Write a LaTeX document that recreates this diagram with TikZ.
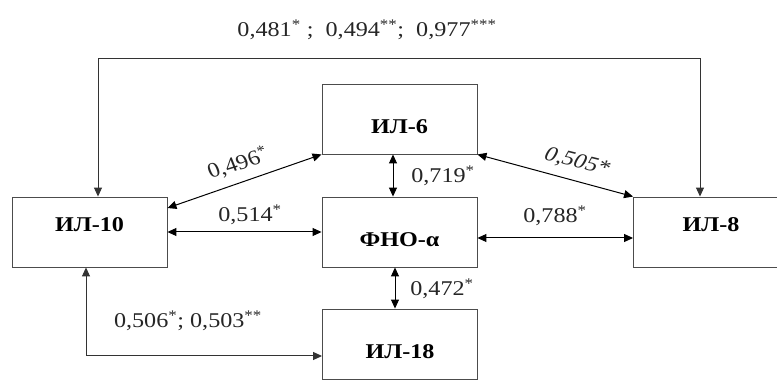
\documentclass[tikz,border=0pt]{standalone}
\usepackage{fontspec}
\setmainfont{Liberation Serif}
\usetikzlibrary{arrows.meta}
\begin{document}
\begin{tikzpicture}[x=1pt,y=-1pt,
  box/.style={draw=black!70,line width=0.9pt,minimum width=155pt,minimum height=70pt,inner sep=0pt},
  blbl/.style={font=\fontsize{21}{24}\selectfont\bfseries,inner sep=0pt,xscale=1.15,transform shape},
  num/.style={font=\fontsize{21}{24}\selectfont,inner sep=0pt,text=black!85,xscale=1.15,transform shape},
  arr/.style={line width=1pt,{Triangle[length=9pt,width=8pt]}-{Triangle[length=9pt,width=8pt]}},
  gline/.style={line width=1pt,draw=black!80,{Triangle[length=9pt,width=8pt]}-{Triangle[length=9pt,width=8pt]}}]
\useasboundingbox (0,0) rectangle (777,387);
% boxes
\node[box] (il10) at (89.5,232) {};
\node[box] (il6) at (399.5,119) {};
\node[box] (fno) at (399.5,232) {};
\node[box] (il8) at (711,232) {};
\node[box] (il18) at (400,344) {};
% box texts
\node[blbl] (t10) at ([yshift=7pt]il10.center) {ИЛ-10};
\node[blbl] (t6) at ([yshift=-8pt]il6.center) {ИЛ-6};
\node[blbl] (tfno) at ([yshift=-8pt]fno.center) {ФНО-α};
\node[blbl] (t8) at ([yshift=7pt]il8.center) {ИЛ-8};
\node[blbl] (t18) at ([yshift=-8pt]il18.center) {ИЛ-18};
% connectors
\coordinate (top10) at (98,0 |- il10.north);
\coordinate (top8) at (700,0 |- il8.north);
\draw[gline] (top10) -- (98,59) -- (700,59) -- (top8);
\node[num] (ltop) at (367,30) {0,481\textsuperscript{*} ;\ \ 0,494\textsuperscript{**};\ \ 0,977\textsuperscript{***}};

\draw[arr] ([yshift=24pt]il10.east) -- (il6.south west);
\node[num,rotate=19] (l496) at (238,163) {0,496\textsuperscript{*}};

\draw[arr] (il6.south east) -- (il8.north west);
\node[num,rotate=-16] (l505) at (577,162) {\textit{0,505*}};

\draw[arr] (il10.east) -- (fno.west);
\node[num] (l514) at (250,215) {0,514\textsuperscript{*}};

\draw[arr] ([yshift=-6pt]fno.east) -- ([yshift=-6pt]il8.west);
\node[num] (l788) at (555,216) {0,788\textsuperscript{*}};

\draw[arr] (393,0 |- il6.south) -- (393,0 |- fno.north);
\node[num] (l719) at (443,176) {0,719\textsuperscript{*}};

\draw[arr] (395,0 |- fno.south) -- (395,0 |- il18.north);
\node[num] (l472) at (442,289) {0,472\textsuperscript{*}};

\coordinate (bot10) at (86,0 |- il10.south);
\draw[gline] (bot10) -- (86,356) -- (il18.west |- 0,356);
\node[num] (l506) at (188,321) {0,506\textsuperscript{*}; 0,503\textsuperscript{**}};
\end{tikzpicture}
\end{document}
